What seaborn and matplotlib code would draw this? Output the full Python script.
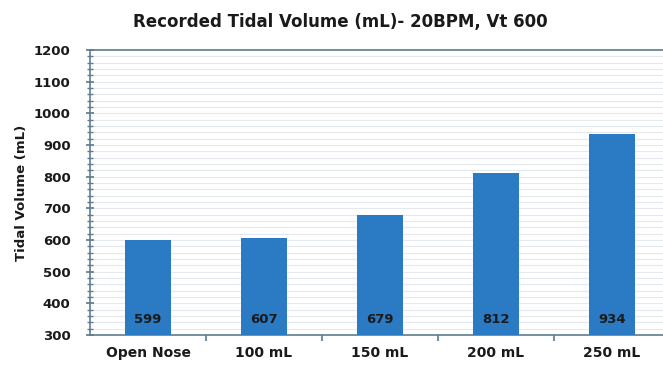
import matplotlib
matplotlib.use("Agg")
import matplotlib.pyplot as plt
from matplotlib.ticker import MultipleLocator
import seaborn as sns
import pandas as pd

categories = ["Open Nose", "100 mL", "150 mL", "200 mL", "250 mL"]
tidal_volume = [599, 607, 679, 812, 934]
title = "Recorded Tidal Volume (mL)- 20BPM, Vt 600"
y_label = "Tidal Volume (mL)"

sns.set_theme(style="white")
plt.rcParams["font.family"] = ["DejaVu Sans"]
plt.rcParams["font.weight"] = "bold"

df = pd.DataFrame({"setting": categories, "volume": tidal_volume})

fig = plt.figure(figsize=(6.63, 3.67), dpi=100)
ax = fig.add_axes([90 / 663, 1 - 335 / 367, 580 / 663, 285 / 367])

# faint horizontal grid every 20 mL
ax.set_ylim(300, 1200)
ax.yaxis.set_major_locator(MultipleLocator(100))
ax.yaxis.set_minor_locator(MultipleLocator(20))
ax.grid(True, which="both", axis="y", color="#e3e9ef", linewidth=0.8)
ax.set_axisbelow(True)

sns.barplot(data=df, x="setting", y="volume", color="#2a7bc4", width=0.4,
            saturation=1, linewidth=0, edgecolor="none", ax=ax, zorder=3)
ax.set_xlim(-0.5, 4.5)

for i, v in enumerate(tidal_volume):
    ax.text(i, 348, str(v), ha="center", va="center", fontsize=9.5,
            fontweight="bold", color="#1a1a1a", zorder=4)

for side in ["left", "bottom", "top"]:
    ax.spines[side].set_visible(True)
    ax.spines[side].set_color("#5f7d8c")
    ax.spines[side].set_linewidth(1.2)
ax.spines["right"].set_visible(False)

ax.tick_params(axis="y", which="major", direction="inout", length=6,
               color="#5f7d8c", labelsize=9.5, pad=11, left=True)
ax.tick_params(axis="y", which="minor", direction="inout", length=4,
               color="#5f7d8c", left=True)
for lbl in ax.get_yticklabels():
    lbl.set_fontweight("bold")
    lbl.set_color("#1a1a1a")

# tick marks between categories, labels centred under bars
ax.set_xticks([0.5, 1.5, 2.5, 3.5])
ax.set_xticklabels([])
ax.set_xticks(range(len(categories)), minor=True)
ax.set_xticklabels(categories, minor=True, fontsize=10, fontweight="bold",
                   color="#1a1a1a")
ax.tick_params(axis="x", which="major", direction="out", length=4,
               color="#5f7d8c", bottom=True)
ax.tick_params(axis="x", which="minor", length=0, pad=8)

ax.set_xlabel("")
ax.set_ylabel(y_label, fontsize=9.5, fontweight="bold", color="#1a1a1a",
              labelpad=4)
fig.text(340 / 663, 1 - 22 / 367, title, ha="center", va="center",
         fontsize=12, fontweight="bold", color="#1a1a1a")

fig.savefig("out.png", dpi=100, facecolor="white")
